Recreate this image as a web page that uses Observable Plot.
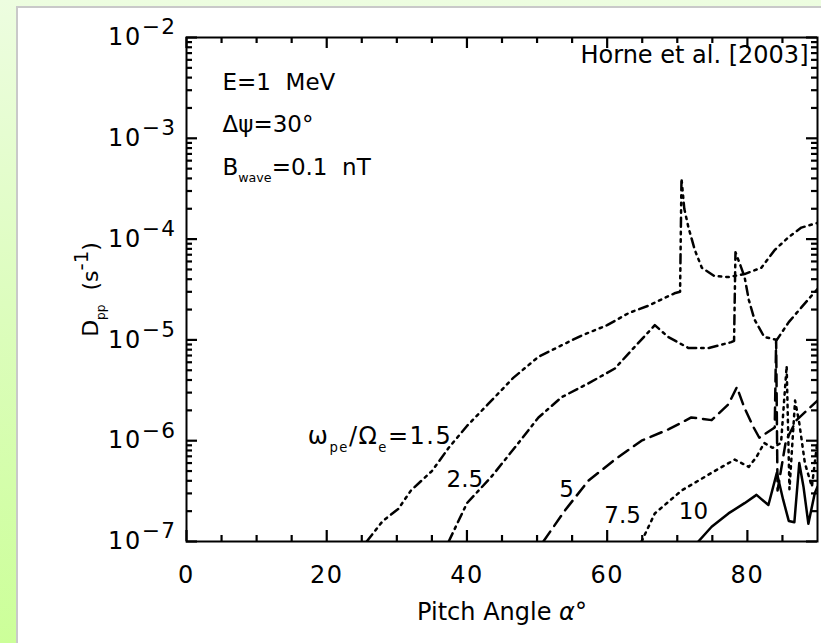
<!DOCTYPE html>
<html>
<head>
<meta charset="utf-8">
<script src="https://cdn.jsdelivr.net/npm/d3@7"></script>
<script src="https://cdn.jsdelivr.net/npm/@observablehq/plot@0.6"></script>
<style>
  html, body { margin: 0; padding: 0; }
  body { width: 821px; height: 643px; overflow: hidden; position: relative;
         background: linear-gradient(to bottom, #edfde0 0%, #dcfdbc 50%, #ccff99 100%); }
  #panel { position: absolute; left: 16px; top: 6px; right: 0; bottom: 0;
           background: #ffffff; border-left: 2px solid #c9c9c9; border-top: 2px solid #c9c9c9; }
  #chart { position: absolute; left: 0; top: 0; }
  #chart svg text { white-space: pre; }
</style>
</head>
<body>
<div id="panel"></div>
<div id="chart"></div>
<script>
// ---------- data ----------
const angle_1_5 = [25.7, 28, 30.2, 32, 35, 37.4, 40, 43, 46.6, 50.2, 53, 56.3, 60, 63.1, 66, 69.6, 70.4, 70.6, 71.0, 71.6, 72.5, 73.5, 75.3, 77.3, 79.6, 82, 83.9, 85.9, 87.7, 90];
const dpp_1_5   = [1.0e-7, 1.6e-7, 2.1e-7, 3.2e-7, 5.0e-7, 8.5e-7, 1.4e-6, 2.3e-6, 4.2e-6, 6.8e-6, 8.5e-6, 1.1e-5, 1.4e-5, 1.85e-5, 2.2e-5, 2.9e-5, 3.0e-5, 4.0e-4, 2.0e-4, 1.3e-4, 7.8e-5, 5.2e-5, 4.3e-5, 4.2e-5, 4.5e-5, 5.2e-5, 7.8e-5, 1.05e-4, 1.3e-4, 1.45e-4];

const angle_2_5 = [37.4, 40, 43.5, 46.8, 50.2, 53.5, 57.3, 61.1, 63.9, 66.8, 68.7, 71.6, 74.5, 77.7, 78.1, 78.3, 79.0, 79.6, 80.2, 81, 82.4, 84.2, 85.9, 87.7, 90];
const dpp_2_5   = [1.0e-7, 2.4e-7, 4.4e-7, 8.5e-7, 1.7e-6, 2.7e-6, 3.7e-6, 5.2e-6, 8.5e-6, 1.4e-5, 1.07e-5, 8.3e-6, 8.3e-6, 9.5e-6, 9.8e-6, 7.4e-5, 5.5e-5, 4.2e-5, 2.5e-5, 1.6e-5, 1.07e-5, 1.0e-5, 1.5e-5, 2.1e-5, 3.2e-5];

const angle_5 = [50.9, 53.9, 57.3, 61.1, 64.9, 68.8, 72, 74.9, 77.3, 78.5, 79.6, 80.9, 81.7, 83.9, 84.1, 84.3, 85.5, 87, 88.5, 90];
const dpp_5   = [1.0e-7, 2.0e-7, 4.0e-7, 6.5e-7, 1.0e-6, 1.3e-6, 1.7e-6, 1.6e-6, 2.3e-6, 3.4e-6, 2.1e-6, 1.35e-6, 1.07e-6, 1.35e-6, 1.0e-5, 3.2e-7, 1.0e-6, 1.6e-6, 2.0e-6, 2.5e-6];

const angle_7_5 = [64.9, 66.8, 70.6, 74.9, 78.2, 80.2, 81.3, 82.4, 83.6, 84.8, 85.6, 86.0, 86.8, 87.4, 88.2, 89.2, 90];
const dpp_7_5   = [1.0e-7, 1.9e-7, 3.2e-7, 4.8e-7, 6.5e-7, 5.5e-7, 6.9e-7, 9.5e-7, 8.5e-7, 9.5e-7, 5.5e-6, 3.3e-7, 2.5e-6, 1.5e-6, 6e-7, 3.5e-7, 1.0e-6];

const angle_10 = [73, 74.9, 77.3, 79.6, 81.3, 83, 84.2, 85.1, 85.9, 86.7, 87.4, 88, 88.7, 89.6, 90];
const dpp_10   = [1.0e-7, 1.4e-7, 1.9e-7, 2.4e-7, 2.9e-7, 2.3e-7, 4.8e-7, 2.6e-7, 1.6e-7, 1.55e-7, 6.0e-7, 3.5e-7, 1.5e-7, 3.0e-7, 3.5e-7];

const seriesNames = ["1.5", "2.5", "5", "7.5", "10"];

// curve labels (text, angle, Dpp)
const curveLabelText  = ["ω_{pe}/Ω_{e}=1.5", "2.5", "5", "7.5", "10"];
const curveLabelAngle = [37.9, 39.7, 54.2, 62.2, 72.3];
const curveLabelDpp   = [1.1e-6, 4.1e-7, 3.3e-7, 1.8e-7, 2.0e-7];

// axis ticks and labels
const xMajorTicks = [0, 20, 40, 60, 80];
const xMinorTicks = [5, 10, 15, 25, 30, 35, 45, 50, 55, 65, 70, 75, 85];
const yMajorTicks = [1e-7, 1e-6, 1e-5, 1e-4, 1e-3, 1e-2];
const yMajorLabels = ["10^{−7}", "10^{−6}", "10^{−5}", "10^{−4}", "10^{−3}", "10^{−2}"];
const yMinorTicks = yMajorTicks.slice(0, 5).flatMap(p => [2,3,4,5,6,7,8,9].map(m => m * p));

const xTitle = "Pitch Angle ~{α}°";
const yTitle = "D_{pp}  (s^{-1})";
const infoLines = ["E=1  MeV", "Δψ=30°", "B_{wave}=0.1  nT"];
const citation = "Horne et al. [2003]";

// ---------- build table ----------
const angles = [angle_1_5, angle_2_5, angle_5, angle_7_5, angle_10];
const dpps = [dpp_1_5, dpp_2_5, dpp_5, dpp_7_5, dpp_10];
const rows = seriesNames.map((s, i) => angles[i].map((a, j) => ({series: s, a, d: dpps[i][j]})));
const curveLabels = curveLabelText.map((t, i) => ({t, a: curveLabelAngle[i], d: curveLabelDpp[i]}));
const dashes = {"1.5": "9,5,2.5,5,2.5,5,2.5,5", "2.5": "9,5,2.5,5", "5": "12,7", "7.5": "2.5,5", "10": null};

// ---------- layout ----------
const W = 821, H = 643;
const mL = 186, mR = 4, mT = 37, mB = 102;
const FW = W - mL - mR, FH = H - mT - mB;
const majorLen = 11, minorLen = 6;

const font = "DejaVu Sans, sans-serif";
const yLabelMap = new Map(yMajorTicks.map((t, i) => [t, yMajorLabels[i]]));
const infoDy = [45, 87, 130];
const tickStyle = {stroke: "#000", strokeWidth: 2.2};

const chart = Plot.plot({
  width: W, height: H,
  marginLeft: mL, marginRight: mR, marginTop: mT, marginBottom: mB,
  style: {background: "transparent", fontFamily: font, color: "black", overflow: "visible"},
  x: {domain: [0, 90]},
  y: {type: "log", domain: [1e-7, 1e-2]},
  marks: [
    ...rows.map((r, i) => Plot.line(r, {x: "a", y: "d", stroke: "black", strokeWidth: 2.5,
      strokeDasharray: dashes[seriesNames[i]], clip: true})),
    Plot.frame({stroke: "black", strokeWidth: 2}),
    // inward ticks on all four sides (rules spanning the frame, inset to a short length)
    Plot.ruleX(xMajorTicks, {x: d => d, insetTop: FH - majorLen, ...tickStyle}),
    Plot.ruleX(xMajorTicks, {x: d => d, insetBottom: FH - majorLen, ...tickStyle}),
    Plot.ruleX(xMinorTicks, {x: d => d, insetTop: FH - minorLen, ...tickStyle}),
    Plot.ruleX(xMinorTicks, {x: d => d, insetBottom: FH - minorLen, ...tickStyle}),
    Plot.ruleY(yMajorTicks, {y: d => d, insetRight: FW - majorLen, ...tickStyle}),
    Plot.ruleY(yMajorTicks, {y: d => d, insetLeft: FW - majorLen, ...tickStyle}),
    Plot.ruleY(yMinorTicks, {y: d => d, insetRight: FW - minorLen, ...tickStyle}),
    Plot.ruleY(yMinorTicks, {y: d => d, insetLeft: FW - minorLen, ...tickStyle}),
    Plot.axisX({ticks: xMajorTicks, tickSize: 0, tickPadding: 24, fontSize: 24, tickFormat: d => String(d), label: null}),
    Plot.axisY({ticks: yMajorTicks, tickSize: 0, tickPadding: 10, fontSize: 24, tickFormat: d => yLabelMap.get(d), label: null}),
    Plot.text([xTitle], {text: d => d, frameAnchor: "bottom", textAnchor: "middle", lineAnchor: "middle", dy: 71, fontSize: 24}),
    Plot.text([yTitle], {text: d => d, frameAnchor: "left", textAnchor: "middle", lineAnchor: "middle", dx: -96, rotate: -90, fontSize: 22}),
    ...infoLines.map((s, i) => Plot.text([s], {text: d => d, frameAnchor: "top-left", textAnchor: "start",
      lineAnchor: "middle", dx: 36, dy: infoDy[i], fontSize: 23})),
    Plot.text([citation], {text: d => d, frameAnchor: "top-right", textAnchor: "end", lineAnchor: "middle",
      dx: -9, dy: 18, fontSize: 24, fontFamily: "DejaVu Sans"}),
    Plot.text(curveLabels.slice(0, 1), {x: "a", y: "d", text: "t", textAnchor: "end", fontSize: 24}),
    Plot.text(curveLabels.slice(1), {x: "a", y: "d", text: "t", textAnchor: "middle", fontSize: 23})
  ]
});
document.getElementById("chart").appendChild(chart);

// wider glyph spacing for the tick labels (the original uses a wide stroke font)
d3.select(chart).selectAll("g[aria-label='x-axis tick label'] text, g[aria-label='y-axis tick label'] text")
  .style("letter-spacing", "1.5px");

// ---------- rich text: _{sub}, ^{sup}, ~{italic} ----------
d3.select(chart).selectAll("text").each(function() {
  const el = this;
  const t = el.textContent;
  if (!/[_^~]\{/.test(t)) return;
  const fs = parseFloat(getComputedStyle(el).fontSize) || 20;
  const re = /([_^~])\{([^}]*)\}|([^_^~]+)/g;
  const parts = [];
  let m;
  while ((m = re.exec(t))) parts.push(m[3] != null ? {k: "n", s: m[3]} : {k: m[1], s: m[2]});
  while (el.firstChild) el.removeChild(el.firstChild);
  if (t.startsWith("ω")) d3.select(el).style("letter-spacing", "1.5px");
  let shift = 0;
  for (const p of parts) {
    const ts = d3.select(el).append("tspan").text(p.s);
    let target = 0;
    if (p.k === "_") { target = fs * 0.32; ts.attr("font-size", fs * 0.55); }
    else if (p.k === "^") { target = -fs * 0.45; ts.attr("font-size", fs * 0.9); }
    else if (p.k === "~") { ts.attr("font-style", "italic"); }
    if (target !== shift) { ts.attr("dy", target - shift); shift = target; }
  }
});
</script>
</body>
</html>
